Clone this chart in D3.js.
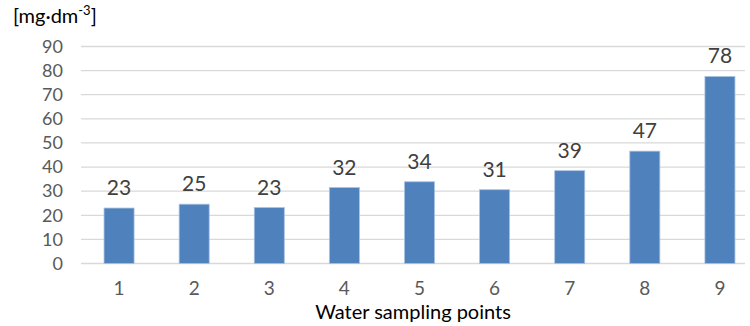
<!DOCTYPE html>
<html><head><meta charset="utf-8">
<script src="https://cdn.jsdelivr.net/npm/d3@7"></script>
<style>body{margin:0;background:#fff}svg{display:block}text{font-family:Lato,"Open Sans",sans-serif}</style>
</head><body><svg id="c" width="750" height="326"></svg>
<script>
const categories = ["1","2","3","4","5","6","7","8","9"];
const values = [23.0, 24.6, 23.2, 31.5, 33.9, 30.6, 38.5, 46.6, 77.6];
const labels = ["23","25","23","32","34","31","39","47","78"];
const yTicks = [0,10,20,30,40,50,60,70,80,90];
const yTitle = "[mg·dm";
const xTitle = "Water sampling points";

const svg = d3.select("#c");
const x = d3.scaleBand().domain(categories).range([81.5, 757.5]).paddingInner(0.6).paddingOuter(0.3);
const y = d3.scaleLinear().domain([0, 90]).range([263.5, 46.5]);
const gridRight = 745;

svg.append("g").selectAll("line").data(yTicks).join("line")
  .attr("x1", 81).attr("x2", gridRight)
  .attr("y1", d => y(d)).attr("y2", d => y(d))
  .attr("stroke", "#d9d9d9").attr("stroke-width", 1.3);

const yAxis = d3.axisLeft(y).tickValues(yTicks).tickSize(0).tickPadding(0);
const gy = svg.append("g").attr("transform", "translate(63,0)").call(yAxis);
gy.select(".domain").remove();
gy.selectAll("text").attr("font-size", 18).attr("fill", "#595959").attr("font-family", "Lato,'Open Sans',sans-serif");

svg.append("g").selectAll("rect").data(values).join("rect")
  .attr("x", (d,i) => x(categories[i]))
  .attr("width", x.bandwidth())
  .attr("y", d => y(d))
  .attr("height", d => y(0) - y(d))
  .attr("fill", "#4f81bd").attr("stroke", "#a9c2e2").attr("stroke-width", 0.8);

svg.append("g").selectAll("text").data(values).join("text")
  .attr("x", (d,i) => x(categories[i]) + x.bandwidth()/2)
  .attr("y", d => y(d) - 13)
  .attr("text-anchor", "middle").attr("font-size", 21).attr("fill", "#404040")
  .text((d,i) => labels[i]);

const xAxis = d3.axisBottom(x).tickSize(0).tickPadding(0);
const gx = svg.append("g").attr("transform", "translate(0,281)").call(xAxis);
gx.select(".domain").remove();
gx.selectAll("text").attr("font-size", 19).attr("fill", "#595959").attr("font-family", "Lato,'Open Sans',sans-serif");

svg.append("text").attr("x", 413).attr("y", 319).attr("text-anchor", "middle")
  .attr("font-size", 20).attr("fill", "#000").text(xTitle);

const t = svg.append("text").attr("x", 13).attr("y", 23).attr("font-size", 20).attr("fill", "#000");
t.append("tspan").text(yTitle);
t.append("tspan").attr("dy", -8).attr("font-size", 13).text("-3");
t.append("tspan").attr("dy", 8).text("]");
</script></body></html>
